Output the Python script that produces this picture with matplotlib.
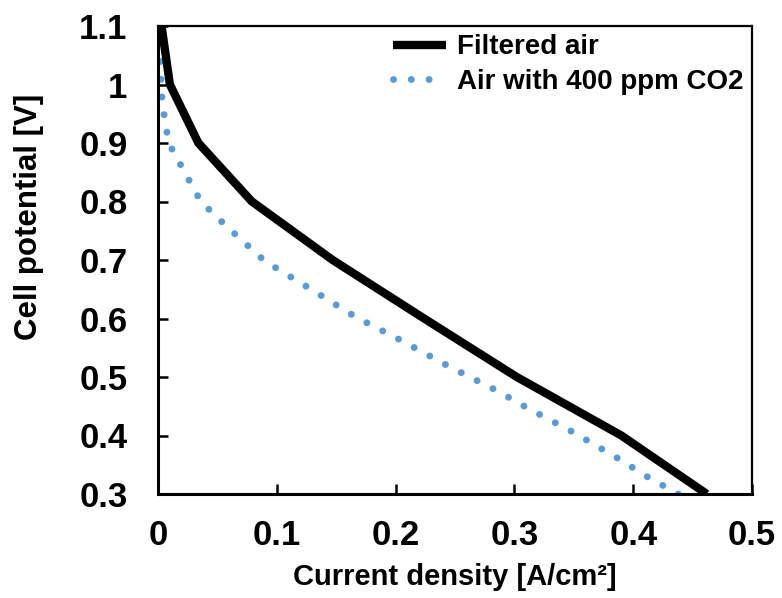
import matplotlib
matplotlib.use("Agg")
import matplotlib.pyplot as plt

plt.rcParams['font.family'] = ['Liberation Sans', 'DejaVu Sans']
plt.rcParams['font.weight'] = 'bold'

# Filtered air (black solid)
filtered_x = [0.003, 0.010, 0.034, 0.079, 0.147, 0.224, 0.302, 0.390, 0.462]
filtered_y = [1.10, 1.00, 0.90, 0.80, 0.70, 0.60, 0.50, 0.40, 0.30]

# Air with 400 ppm CO2 (blue dotted)
co2_x = [0.000, 0.002, 0.003, 0.005, 0.009, 0.016, 0.023, 0.036, 0.058, 0.090,
         0.128, 0.166, 0.206, 0.245, 0.285, 0.310, 0.350, 0.388, 0.413, 0.438]
co2_y = [1.100, 1.040, 0.985, 0.950, 0.900, 0.874, 0.848, 0.800, 0.757, 0.698,
         0.651, 0.603, 0.561, 0.518, 0.477, 0.448, 0.405, 0.360, 0.328, 0.300]

x_ticks = [0, 0.1, 0.2, 0.3, 0.4, 0.5]
x_labels = ['0', '0.1', '0.2', '0.3', '0.4', '0.5']
y_ticks = [0.3, 0.4, 0.5, 0.6, 0.7, 0.8, 0.9, 1.0, 1.1]
y_labels = ['0.3', '0.4', '0.5', '0.6', '0.7', '0.8', '0.9', '1', '1.1']

fig = plt.figure(figsize=(7.82, 5.98), dpi=100)
ax = fig.add_axes([158/782, 1 - 494/598, (752-158)/782, (494-26)/598])

ax.plot(filtered_x, filtered_y, color='black', lw=6, label='Filtered air',
        solid_joinstyle='miter', solid_capstyle='butt', zorder=3)
ax.plot(co2_x, co2_y, color='#5B9BD5', lw=5.0, linestyle=(0, (0.01, 2.55)),
        dash_capstyle='round', label='Air with 400 ppm CO2', zorder=2)

ax.set_xlim(0, 0.5)
ax.set_ylim(0.3, 1.1)
ax.set_xticks(x_ticks)
ax.set_xticklabels(x_labels)
ax.set_yticks(y_ticks)
ax.set_yticklabels(y_labels)
ax.tick_params(direction='in', length=7, width=1.8, labelsize=25)
ax.tick_params(axis='x', pad=18)
ax.tick_params(axis='y', pad=22)
for lab in ax.get_xticklabels() + ax.get_yticklabels():
    lab.set_fontweight('bold')

for side in ['left', 'bottom']:
    ax.spines[side].set_linewidth(2.2)
for side in ['top', 'right']:
    ax.spines[side].set_linewidth(1.6)

ax.set_xlabel('Current density [A/cm²]', fontsize=21, fontweight='bold')
ax.set_ylabel('Cell potential [V]', fontsize=22.5, fontweight='bold')
ax.xaxis.set_label_coords(0.5, -(563 - 494) / 468)
ax.yaxis.set_label_coords((44 - 158) / 594, (494 - 217) / 468)

leg = ax.legend(loc='upper right', frameon=False, fontsize=20, handlelength=1.9,
                bbox_to_anchor=(1.0, 1.0), borderaxespad=0.0, borderpad=0.3,
                labelspacing=0.3, handletextpad=0.4)
for t in leg.get_texts():
    t.set_fontweight('bold')

fig.savefig('out.png', dpi=100)
